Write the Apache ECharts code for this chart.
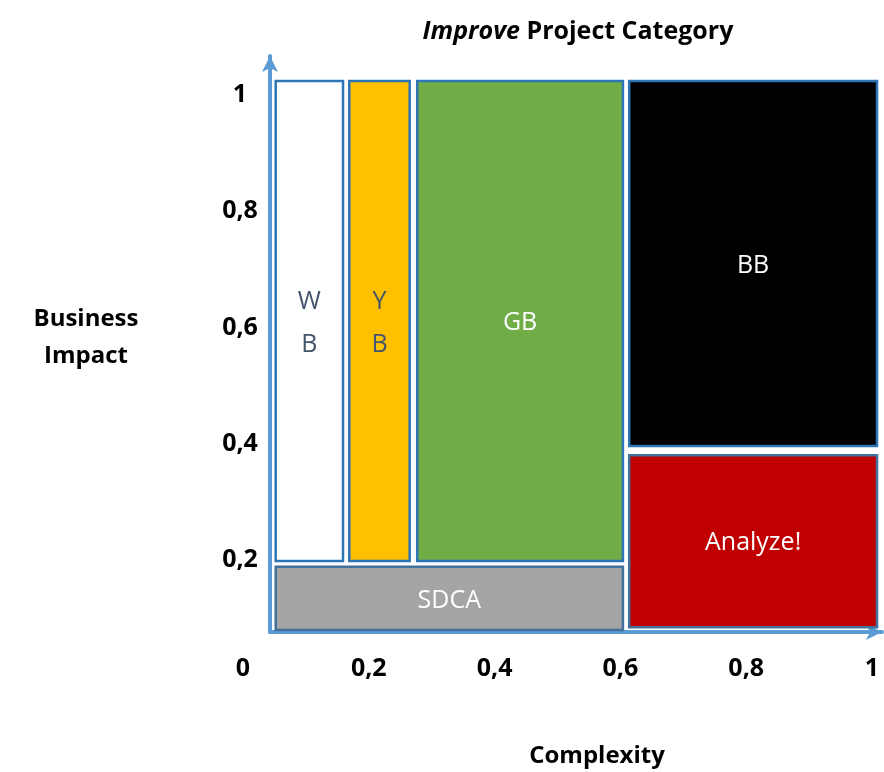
<!DOCTYPE html>
<html>
<head>
<meta charset="utf-8">
<script src="https://cdn.jsdelivr.net/npm/echarts@6/dist/echarts.min.js"></script>
<style>
html,body{margin:0;padding:0;background:#fff;}
#chart{width:884px;height:772px;}
</style>
</head>
<body>
<div id="chart"></div>
<script>
// ---- data ----
const categories = ['WB', 'YB', 'GB', 'BB', 'Analyze!', 'SDCA'];
const boxLabels = ['W\nB', 'Y\nB', 'GB', 'BB', 'Analyze!', 'SDCA'];
const complexityStart = [0.052, 0.169, 0.277, 0.614, 0.614, 0.052];
const complexityEnd   = [0.159, 0.265, 0.604, 1.008, 1.008, 0.604];
const impactStart     = [0.198, 0.198, 0.198, 0.396, 0.084, 0.079];
const impactEnd       = [1.024, 1.024, 1.024, 1.024, 0.380, 0.188];
const xTickValues = [0, 0.2, 0.4, 0.6, 0.8, 1];
const xTickLabels = ['0', '0,2', '0,4', '0,6', '0,8', '1'];
const yTickValues = [0.2, 0.4, 0.6, 0.8, 1];
const yTickLabels = ['0,2', '0,4', '0,6', '0,8', '1'];

// ---- styles ----
const fills   = ['#ffffff', '#ffc000', '#70ad47', '#000000', '#c00000', '#a5a5a5'];
const strokes = ['#2e75b6', '#2e75b6', '#2e75b6', '#2e75b6', '#41719c', '#41719c'];
const textColors = ['#44546a', '#44546a', '#ffffff', '#ffffff', '#ffffff', '#ffffff'];
const FONT = '"Open Sans", Lato, sans-serif';

const data = categories.map((c, i) => ({
  name: c,
  value: [complexityStart[i], complexityEnd[i], impactStart[i], impactEnd[i]]
}));

const chart = echarts.init(document.getElementById('chart'), null, {renderer: 'canvas'});
chart.setOption({
  backgroundColor: '#ffffff',
  animation: false,
  title: [
    {
      text: '{i|Improve} Project Category',
      left: 573, top: 14, textAlign: 'center',
      textStyle: {
        fontFamily: FONT, fontSize: 25, fontWeight: 'bold', color: '#000',
        rich: { i: { fontFamily: FONT, fontSize: 25, fontStyle: 'italic', fontWeight: 'bold', color: '#000' } }
      }
    },
    {
      text: 'Business\nImpact',
      left: 81, top: 296, textAlign: 'center',
      textStyle: { fontFamily: FONT, fontSize: 24, fontWeight: 'bold', color: '#000', lineHeight: 37 }
    },
    {
      text: 'Complexity',
      left: 592, top: 739, textAlign: 'center',
      textStyle: { fontFamily: FONT, fontSize: 24, fontWeight: 'bold', color: '#000' }
    }
  ],
  grid: [
    { left: 243, right: 12, top: 95, bottom: 96 },
    { left: 270, right: 2, top: 56, bottom: 140 }
  ],
  xAxis: [
    {
      type: 'value', gridIndex: 0, min: 0, max: 1,
      axisLine: { show: false }, axisTick: { show: false }, splitLine: { show: false },
      axisLabel: {
        customValues: xTickValues,
        formatter: v => xTickLabels[xTickValues.findIndex(t => Math.abs(t - v) < 1e-6)] || '',
        fontFamily: FONT, fontSize: 25, fontWeight: 'bold', color: '#000',
        verticalAlign: 'middle', margin: -7
      }
    },
    {
      type: 'value', gridIndex: 1, min: 0, max: 1,
      axisLine: { show: true, symbol: ['none', 'arrow'], symbolSize: [12, 16],
                  lineStyle: { color: '#5b9bd5', width: 4 } },
      axisTick: { show: false }, axisLabel: { show: false }, splitLine: { show: false }
    }
  ],
  yAxis: [
    {
      type: 'value', gridIndex: 0, min: 0, max: 1,
      axisLine: { show: false }, axisTick: { show: false }, splitLine: { show: false },
      axisLabel: {
        customValues: yTickValues,
        formatter: v => yTickLabels[yTickValues.findIndex(t => Math.abs(t - v) < 1e-6)] || '',
        fontFamily: FONT, fontSize: 25, fontWeight: 'bold', color: '#000',
        align: 'center', margin: 3
      }
    },
    {
      type: 'value', gridIndex: 1, min: 0, max: 1,
      axisLine: { show: true, symbol: ['none', 'arrow'], symbolSize: [12, 16],
                  lineStyle: { color: '#5b9bd5', width: 4 } },
      axisTick: { show: false }, axisLabel: { show: false }, splitLine: { show: false }
    }
  ],
  series: [{
    type: 'custom',
    xAxisIndex: 0, yAxisIndex: 0,
    clip: false,
    encode: { x: [0, 1], y: [2, 3] },
    data: data,
    renderItem: function (params, api) {
      const i = params.dataIndex;
      const p0 = api.coord([api.value(0), api.value(3)]);
      const p1 = api.coord([api.value(1), api.value(2)]);
      return {
        type: 'rect',
        shape: { x: p0[0], y: p0[1], width: p1[0] - p0[0], height: p1[1] - p0[1] },
        style: { fill: fills[i], stroke: strokes[i], lineWidth: 2.5 },
        textContent: {
          style: {
            text: boxLabels[i], fill: textColors[i],
            font: '25px ' + FONT, lineHeight: 43, align: 'center', verticalAlign: 'middle'
          }
        },
        textConfig: { position: 'inside', offset: [0, 2] }
      };
    }
  }]
});
</script>
</body>
</html>
